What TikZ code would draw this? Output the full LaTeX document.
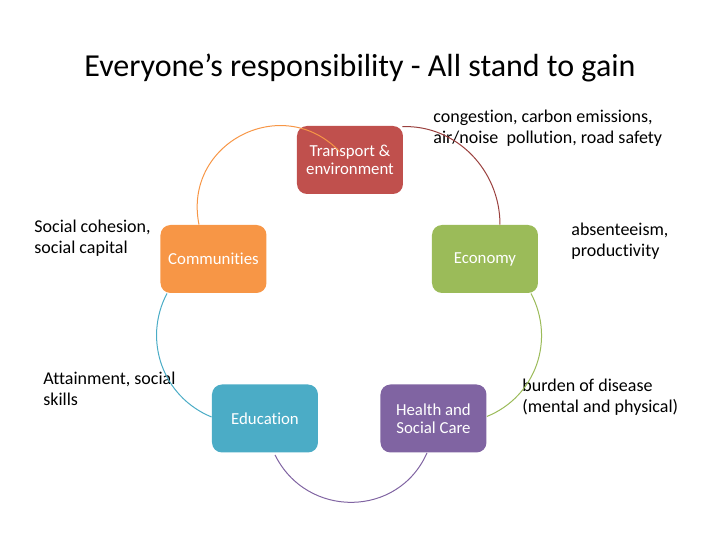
\documentclass[tikz,border=0pt]{standalone}
\usepackage{fontspec}
\setmainfont{Carlito}[Ligatures={NoCommon}]
\usetikzlibrary{positioning, calc}

\definecolor{trred}{HTML}{C0504D}
\definecolor{ecgreen}{HTML}{9BBB59}
\definecolor{hepurple}{HTML}{8064A2}
\definecolor{edblue}{HTML}{4BACC6}
\definecolor{coorange}{HTML}{F79646}

\begin{document}
\begin{tikzpicture}[x=0.5pt, y=-0.5pt,
    area/.style={rectangle, rounded corners=5pt, minimum width=53pt, minimum height=34pt,
                 inner sep=0pt, text=white, align=center, font=\fontsize{8.4}{9}\selectfont},
    note/.style={anchor=west, inner sep=0pt, align=left, font=\fontsize{9}{10.5}\selectfont},
    link/.style={line width=0.5pt}]
  \useasboundingbox (0,0) rectangle (720,540);

  \node (title) at (360,68) [font=\fontsize{16}{19}\selectfont] {Everyone’s responsibility - All stand to gain};

  % the five areas
  \node (trans) [area, fill=trred] at (350,160) {Transport \&\\environment};
  \node (econ) [area, fill=ecgreen] at (485,259) {Economy};
  \node (heal) [area, fill=hepurple] at (433.5,418.5) {Health and\\Social Care};
  \node (edu) [area, fill=edblue] at (265,418.5) {Education};
  \node (comm) [area, fill=coorange] at (213.5,259) {Communities};

  % what is at stake
  \node (transnote) [note] at (433,128) {congestion, carbon emissions,\\air/noise\ \ pollution, road safety};
  \node (econnote) [note] at (571,241) {absenteeism,\\productivity};
  \node (healnote) [note] at (522,397) {burden of disease\\(mental and physical)};
  \node (commnote) [note] at (34,238) {Social cohesion,\\social capital};
  \node (edunote) [note] at (43,389) {Attainment, social\\skills};

  % the cycle
  \draw [link, coorange] ($(comm.north)+(-14.5,0)$)
      .. controls +(-16.6,-81.5) and +(-57.1,-60.6) .. ($(trans.center)+(-10,-8)$);
  \draw [link, trred!80!black] ($(trans.north east)+(-1,1)$)
      .. controls +(54.2,-1.7) and +(0,-54.2) .. ($(econ.north)+(15,0)$);
  \draw [link, ecgreen] ($(econ.south)+(46,0)$)
      .. controls +(24.5,46.6) and +(49,-20) .. ($(heal.east)+(0,-2)$);
  \draw [link, hepurple] ($(heal.south)+(-6.5,0)$)
      .. controls +(-28.8,65.3) and +(31.6,63.9) .. ($(edu.south)+(10,2)$);
  \draw [link, edblue] ($(comm.south)+(-46.5,0)$)
      .. controls +(-24.5,46.6) and +(-49,-20) .. ($(edu.west)+(0,-1.5)$);
\end{tikzpicture}
\end{document}
